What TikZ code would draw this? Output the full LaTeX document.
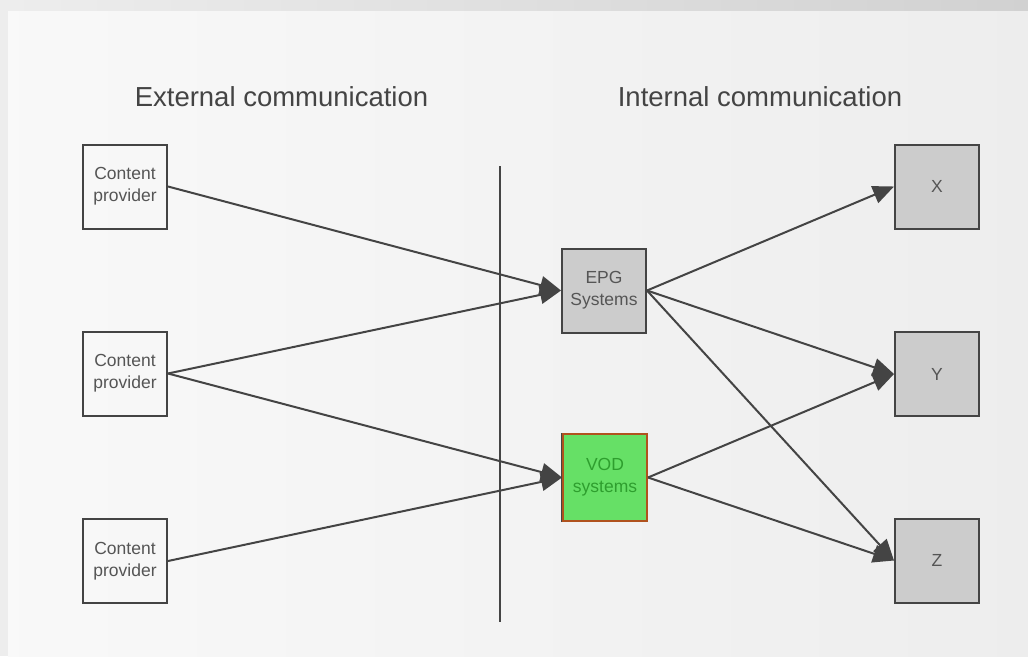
\documentclass[tikz,border=0pt]{standalone}
\usepackage{fontspec}
\setmainfont{Liberation Sans}
\usetikzlibrary{arrows.meta}
\definecolor{ink}{HTML}{444444}
\definecolor{boxtext}{HTML}{555555}
\definecolor{boxgray}{HTML}{CCCCCC}
\definecolor{vodfill}{HTML}{66E066}
\definecolor{vodtext}{HTML}{2E9E2E}
\definecolor{vodedge}{HTML}{B0521E}
\tikzset{
  heading/.style={text=ink, font=\fontsize{27.5}{32}\selectfont},
  srcbox/.style={draw=ink, line width=2pt, minimum width=84pt, minimum height=84pt,
    inner sep=0pt, align=center, text=boxtext, font=\fontsize{17.5}{22}\selectfont},
  sysbox/.style={srcbox, fill=boxgray},
  vodbox/.style={srcbox, fill=vodfill, draw=vodedge, text=vodtext, minimum height=87pt},
  flow/.style={draw=ink, line width=2pt, -{Triangle[length=21pt,width=18pt]}},
  divider/.style={draw=ink, line width=2pt}
}
\begin{document}
\begin{tikzpicture}[x=1pt,y=-1pt]
  \useasboundingbox (0,0) rectangle (1028,656);
  % page background: frame strips and inner panel
  \shade[left color=white!93!black, right color=white!82!black] (0,0) rectangle (1028,11);
  \fill[white!93!black] (0,11) rectangle (8,656);
  \shade[left color=white!97.5!black, right color=white!93!black] (8,11) rectangle (1028,656);

  % column headings
  \node[heading] (hext) at (281.5,97) {External communication};
  \node[heading] (hint) at (760,97) {Internal communication};

  % boundary between external and internal side
  \coordinate (dtop) at (500,166);
  \coordinate (dbot) at (500,622);
  \draw[divider] (dtop) -- (dbot);

  % sources
  \node[srcbox] (cp1) at (125,186.5) {Content\\provider};
  \node[srcbox] (cp2) at (125,373.5) {Content\\provider};
  \node[srcbox] (cp3) at (125,561) {Content\\provider};

  % internal systems
  \node[sysbox] (epg) at (604,290.5) {EPG\\Systems};
  \node[vodbox] (vod) at (605,477.5) {VOD\\systems};
  \draw[ink, line width=1.5pt] ([xshift=-0.5pt]vod.south west) -- ([xshift=-0.5pt]vod.north west);

  % targets
  \node[sysbox] (x) at (937,186.5) {X};
  \node[sysbox] (y) at (937,374) {Y};
  \node[sysbox] (z) at (937,560.5) {Z};

  % flows
  \draw[flow] (cp1.east) -- (epg.west);
  \draw[flow] (cp2.east) -- (epg.west);
  \draw[flow] (cp2.east) -- (vod.west);
  \draw[flow] (cp3.east) -- (vod.west);
  \draw[flow] (epg.east) -- (x.west);
  \draw[flow] (epg.east) -- (y.west);
  \draw[flow] (epg.east) -- (z.west);
  \draw[flow] (vod.east) -- (y.west);
  \draw[flow] (vod.east) -- (z.west);
\end{tikzpicture}
\end{document}
